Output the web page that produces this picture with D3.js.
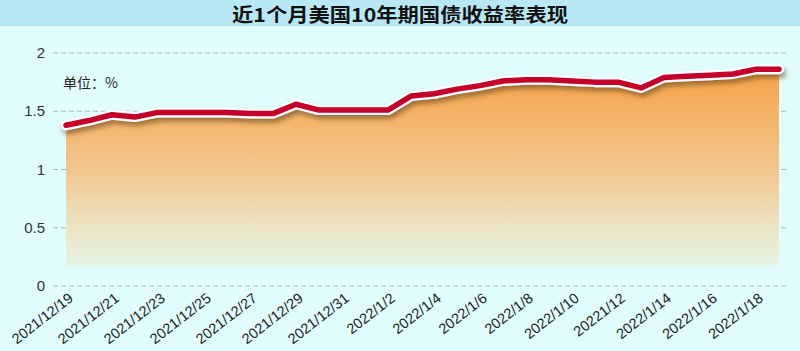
<!DOCTYPE html>
<html>
<head>
<meta charset="utf-8">
<script src="https://cdn.jsdelivr.net/npm/d3@7"></script>
<style>
  body { margin: 0; background: #e0fcfc; }
  svg { display: block; font-family: "Liberation Sans", Arial, sans-serif; }
</style>
</head>
<body>
<div id="chart"></div>
<script>
const dates = ["2021/12/19","2021/12/20","2021/12/21","2021/12/22","2021/12/23","2021/12/24","2021/12/25","2021/12/26",
  "2021/12/27","2021/12/28","2021/12/29","2021/12/30","2021/12/31","2022/1/1","2022/1/2","2022/1/3",
  "2022/1/4","2022/1/5","2022/1/6","2022/1/7","2022/1/8","2022/1/9","2022/1/10","2022/1/11",
  "20221/12","2022/1/13","2022/1/14","2022/1/15","2022/1/16","2022/1/17","2022/1/18","2022/1/19"]
const yields = [1.38,1.42,1.47,1.45,1.49,1.49,1.49,1.49,
  1.48,1.48,1.56,1.51,1.51,1.51,1.51,1.63,
  1.65,1.69,1.72,1.76,1.77,1.77,1.76,1.75,
  1.75,1.70,1.79,1.80,1.81,1.82,1.86,1.86]
const yTicks = [0, 0.5, 1, 1.5, 2]
const title = "近1个月美国10年期国债收益率表现"
const unitLabel = "单位：%"

const width = 800, height = 351

const svg = d3.select("#chart").append("svg")
  .attr("width", width)
  .attr("height", height)

svg.append("rect").attr("width", width).attr("height", height).attr("fill", "#e0fcfc")
svg.append("rect").attr("width", width).attr("height", 26).attr("fill", "#b8e8f4")
svg.append("text")
  .attr("x", width / 2).attr("y", 22)
  .attr("text-anchor", "middle")
  .attr("font-family", "'Noto Sans CJK SC', sans-serif")
  .attr("font-weight", "bold")
  .attr("font-size", 19)
  .attr("textLength", 336)
  .attr("lengthAdjust", "spacingAndGlyphs")
  .attr("fill", "#111")
  .text(title)

const x = d3.scalePoint().domain(dates).range([66, 779])
const y = d3.scaleLinear().domain([0, 2]).range([286, 53])

// defs: gradient for area, shadow for line
const defs = svg.append("defs")
const grad = defs.append("linearGradient")
  .attr("id", "areaGrad")
  .attr("gradientUnits", "userSpaceOnUse")
  .attr("x1", 0).attr("x2", 0)
  .attr("y1", y(2)).attr("y2", y(0))
;[[0.1, "#f6a54c", 1], [0.5, "#f2c68e", 1], [0.76, "#ebe5c6", 1], [0.9, "#e5f2e2", 1], [0.93, "#e0fcfc", 0]]
  .forEach(s => grad.append("stop").attr("offset", s[0]).attr("stop-color", s[1]).attr("stop-opacity", s[2]))

defs.append("filter").attr("id", "shadow")
  .attr("x", "-5%").attr("y", "-50%").attr("width", "110%").attr("height", "200%")
  .append("feDropShadow")
  .attr("dx", 2).attr("dy", 4).attr("stdDeviation", 2.5)
  .attr("flood-color", "#5a3a10").attr("flood-opacity", 0.55)

// grid + y labels
const grid = svg.append("g")
grid.selectAll("line").data(yTicks).enter().append("line")
  .attr("x1", 53).attr("x2", 789)
  .attr("y1", d => y(d)).attr("y2", d => y(d))
  .attr("stroke", "#aab8b8")
  .attr("stroke-dasharray", "5,3")
grid.selectAll("text").data(yTicks).enter().append("text")
  .attr("x", 45).attr("y", d => y(d) + 5)
  .attr("text-anchor", "end")
  .attr("font-size", 15)
  .attr("fill", "#333")
  .text(d => d3.format("~g")(d))

// area
const area = d3.area().x((d, i) => x(dates[i])).y0(y(0)).y1(d => y(d))
svg.append("path").datum(yields)
  .attr("d", area)
  .attr("fill", "url(#areaGrad)")

// line with white outline + shadow
const line = d3.line().x((d, i) => x(dates[i])).y(d => y(d))
svg.append("path").datum(yields)
  .attr("d", line)
  .attr("fill", "none")
  .attr("stroke", "#fff")
  .attr("stroke-width", 10)
  .attr("stroke-linejoin", "round")
  .attr("stroke-linecap", "round")
  .attr("filter", "url(#shadow)")
svg.append("path").datum(yields)
  .attr("d", line)
  .attr("fill", "none")
  .attr("stroke", "#c4002a")
  .attr("stroke-width", 5.5)
  .attr("stroke-linejoin", "round")
  .attr("stroke-linecap", "round")

svg.append("text")
  .attr("x", 63).attr("y", 88)
  .attr("font-family", "'Noto Sans CJK SC', sans-serif")
  .attr("font-size", 14)
  .attr("fill", "#222")
  .text(unitLabel)

// x labels every other day
svg.append("g").selectAll("text")
  .data(dates.filter((d, i) => i % 2 === 0 && i < 31))
  .enter().append("text")
  .attr("transform", d => "translate(" + [x(d) + 8, 300] + ") rotate(-38)")
  .attr("text-anchor", "end")
  .attr("font-size", 14.5)
  .attr("fill", "#222")
  .text(d => d)
</script>
</body>
</html>
